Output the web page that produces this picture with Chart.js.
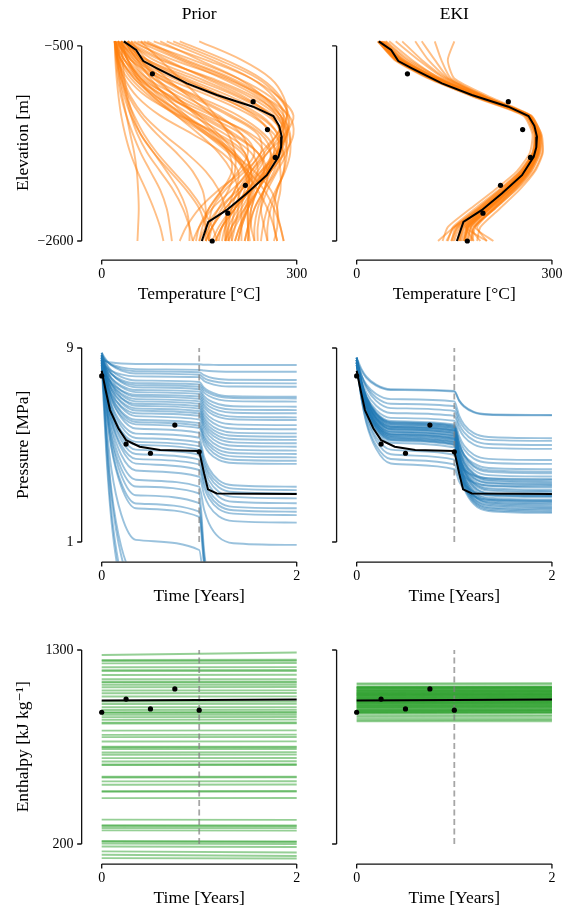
<!DOCTYPE html>
<html>
<head>
<meta charset="utf-8">
<script src="https://cdn.jsdelivr.net/npm/chart.js@4.4.1/dist/chart.umd.min.js"></script>
<style>
  body { margin: 0; background: #fff; }
  canvas { position: absolute; }
</style>
</head>
<body>
<canvas id="tempPrior" width="316" height="310" style="left:0;top:0"></canvas>
<canvas id="tempEki" width="247" height="310" style="left:316px;top:0"></canvas>
<canvas id="presPrior" width="316" height="310" style="left:0;top:302px"></canvas>
<canvas id="presEki" width="247" height="310" style="left:316px;top:302px"></canvas>
<canvas id="enthPrior" width="316" height="310" style="left:0;top:604px"></canvas>
<canvas id="enthEki" width="247" height="310" style="left:316px;top:604px"></canvas>
<script>
// ---- temperature profiles (x = temperature, y = elevation)
const elevLevels = [-450, -650, -850, -1050, -1250, -1450, -1650, -1850, -2050, -2250, -2450, -2600]

const tempPriorRows = [
    [30, 70, 140, 210, 260, 275, 265, 245, 225, 205, 185, 175],
    [45, 110, 190, 250, 288, 295, 282, 260, 240, 220, 200, 190],
    [60, 140, 210, 260, 285, 285, 270, 250, 235, 225, 215, 210],
    [25, 60, 120, 190, 245, 270, 270, 255, 240, 230, 225, 220],
    [80, 160, 230, 272, 295, 282, 255, 230, 210, 200, 195, 195],
    [35, 90, 170, 235, 275, 290, 285, 270, 255, 245, 240, 240],
    [120, 190, 245, 275, 285, 275, 255, 235, 220, 215, 215, 215],
    [50, 100, 160, 220, 260, 275, 270, 255, 230, 205, 185, 175],
    [20, 50, 100, 170, 230, 265, 280, 280, 270, 260, 255, 255],
    [150, 215, 260, 280, 285, 270, 245, 225, 205, 195, 190, 190],
    [40, 80, 150, 215, 265, 285, 280, 260, 240, 230, 230, 235],
    [70, 130, 200, 250, 280, 285, 275, 260, 250, 245, 250, 255],
    [30, 70, 130, 200, 255, 280, 285, 280, 270, 265, 265, 270],
    [100, 170, 230, 265, 280, 270, 250, 230, 215, 205, 200, 200],
    [25, 65, 125, 185, 235, 260, 265, 255, 240, 225, 215, 210],
    [55, 120, 185, 240, 270, 280, 275, 265, 250, 235, 225, 220],
    [20, 45, 90, 150, 210, 250, 270, 275, 275, 270, 275, 280],
    [90, 150, 210, 250, 275, 280, 270, 245, 215, 190, 170, 160],
    [20, 30, 55, 100, 160, 215, 235, 215, 180, 150, 130, 120],
    [25, 40, 70, 120, 175, 225, 250, 240, 210, 180, 160, 150],
    [30, 40, 60, 95, 140, 190, 230, 240, 225, 200, 180, 170],
    [20, 25, 40, 70, 120, 180, 220, 225, 200, 170, 150, 140],
    [35, 55, 90, 140, 195, 240, 245, 220, 190, 170, 165, 165],
    [20, 30, 50, 85, 130, 170, 195, 200, 185, 165, 150, 145],
    [25, 45, 80, 130, 180, 215, 225, 210, 185, 165, 155, 150],
    [40, 60, 95, 145, 200, 245, 260, 250, 225, 200, 185, 180],
    [20, 35, 60, 110, 170, 230, 260, 255, 230, 205, 190, 185],
    [30, 40, 55, 80, 120, 165, 205, 225, 225, 210, 195, 190],
    [20, 25, 35, 55, 90, 140, 185, 210, 205, 185, 170, 165],
    [25, 35, 55, 85, 125, 175, 215, 230, 215, 190, 170, 160],
    [20, 22, 25, 30, 38, 48, 60, 75, 90, 100, 105, 108],
    [25, 28, 32, 38, 45, 55, 70, 90, 110, 125, 135, 140],
    [20, 21, 23, 26, 30, 36, 44, 55, 68, 80, 90, 95],
    [30, 32, 35, 40, 48, 60, 80, 105, 130, 150, 160, 165],
    [22, 25, 30, 38, 50, 65, 85, 110, 135, 155, 170, 178],
    [20, 24, 30, 42, 60, 85, 115, 140, 155, 160, 160, 160],
    [22, 24, 27, 32, 38, 44, 50, 54, 56, 57, 56, 55],
    [20, 23, 28, 35, 45, 60, 80, 100, 118, 130, 135, 135],
    [40, 60, 85, 115, 145, 175, 200, 220, 240, 255, 265, 270],
    [25, 40, 60, 90, 125, 160, 195, 225, 250, 265, 275, 280],
    [30, 50, 80, 115, 150, 180, 205, 220, 225, 225, 225, 225],
    [20, 30, 50, 80, 115, 150, 180, 200, 210, 210, 205, 200],
    [60, 90, 120, 150, 175, 195, 205, 205, 195, 180, 165, 155],
    [45, 70, 100, 135, 170, 200, 220, 230, 230, 220, 205, 195],
    [35, 55, 75, 100, 130, 165, 200, 235, 260, 270, 270, 265],
    [25, 55, 110, 180, 240, 272, 278, 268, 250, 235, 228, 225],
    [65, 125, 195, 245, 275, 283, 272, 252, 232, 215, 200, 195],
    [20, 28, 45, 75, 115, 160, 200, 222, 228, 222, 212, 205],
    [30, 45, 70, 105, 150, 200, 240, 255, 250, 240, 235, 235],
    [22, 26, 33, 45, 65, 95, 130, 160, 180, 190, 192, 192],
    [110, 180, 240, 272, 288, 285, 268, 248, 232, 225, 225, 228],
    [40, 95, 165, 228, 270, 288, 290, 282, 268, 255, 248, 245],
    [20, 35, 65, 105, 155, 205, 240, 250, 240, 225, 212, 205]
]

const tempEkiRows = [
    [36, 66, 120, 190, 264, 280, 278, 262, 232, 198, 165, 158],
    [40, 70, 125, 195, 268, 283, 282, 268, 240, 205, 172, 165],
    [32, 60, 112, 182, 258, 272, 270, 252, 220, 186, 152, 146],
    [45, 80, 130, 198, 266, 279, 276, 260, 235, 205, 175, 170],
    [38, 64, 118, 188, 263, 278, 277, 263, 236, 203, 168, 162],
    [60, 95, 135, 195, 262, 275, 272, 255, 226, 192, 158, 150],
    [90, 110, 140, 200, 265, 278, 274, 258, 230, 198, 165, 160],
    [35, 63, 115, 185, 260, 282, 285, 272, 245, 212, 180, 175],
    [34, 61, 114, 186, 261, 274, 270, 250, 218, 182, 148, 140],
    [50, 85, 128, 192, 264, 277, 275, 259, 231, 200, 170, 165],
    [120, 130, 145, 200, 263, 276, 273, 256, 226, 192, 160, 155],
    [37, 67, 122, 192, 266, 284, 286, 274, 250, 220, 190, 185],
    [33, 58, 110, 180, 256, 270, 266, 246, 212, 175, 140, 132],
    [42, 72, 124, 193, 265, 280, 279, 265, 240, 210, 182, 178],
    [150, 140, 150, 205, 268, 282, 280, 264, 236, 204, 172, 168],
    [36, 65, 119, 189, 263, 279, 279, 266, 242, 212, 185, 200],
    [35, 62, 117, 188, 262, 277, 276, 261, 234, 203, 175, 190],
    [39, 68, 121, 190, 264, 278, 275, 257, 227, 191, 150, 125],
    [34, 63, 118, 190, 265, 281, 281, 268, 244, 213, 182, 210],
    [70, 100, 138, 197, 264, 277, 273, 255, 225, 190, 155, 148],
    [36, 64, 117, 187, 262, 276, 274, 258, 229, 196, 162, 156],
    [33, 60, 113, 184, 260, 274, 272, 256, 228, 198, 168, 180],
    [41, 71, 123, 191, 264, 279, 278, 264, 238, 207, 176, 172],
    [37, 66, 120, 189, 262, 275, 271, 252, 221, 186, 150, 138],
    [100, 120, 142, 198, 264, 277, 274, 257, 228, 195, 162, 158],
    [35, 63, 116, 186, 261, 276, 275, 260, 233, 202, 170, 165],
    [38, 67, 121, 191, 265, 280, 278, 262, 234, 201, 168, 200],
    [34, 61, 115, 186, 261, 275, 272, 254, 223, 188, 155, 145],
    [44, 76, 127, 194, 265, 279, 277, 261, 234, 202, 171, 166],
    [36, 65, 119, 189, 264, 279, 279, 265, 240, 210, 180, 176]
]

const truthElev = [-450, -543, -662, -740, -902, -1028, -1154, -1255, -1360, -1478, -1590, -1693, -1891, -2088, -2268, -2394, -2600]
const truthTemp = [34, 53, 64, 85, 131, 177, 233, 264, 273, 277, 276, 272, 254, 223, 192, 164, 154]
const obsElev = [-800, -1100, -1400, -1700, -2000, -2300, -2600]
const obsTemp = [78, 233, 255, 267, 221, 194, 170]

// ---- pressure time series
const timeGrid = [0, 0.05, 0.1, 0.2, 0.35, 1.0, 1.05, 1.1, 1.2, 1.35, 2.0]

const presPriorRows = [
    [8.5, 8.44, 8.4, 8.36, 8.34, 8.33, 8.31, 8.31, 8.3, 8.3, 8.3],
    [8.6, 8.43, 8.32, 8.2, 8.13, 8.1, 8.07, 8.05, 8.03, 8.02, 8.02],
    [8.7, 8.46, 8.3, 8.13, 8.04, 8.0, 7.88, 7.8, 7.72, 7.69, 7.68],
    [8.8, 8.49, 8.29, 8.07, 7.95, 7.9, 7.76, 7.67, 7.59, 7.55, 7.54],
    [8.4, 8.2, 8.06, 7.91, 7.83, 7.8, 7.64, 7.55, 7.45, 7.41, 7.4],
    [8.7, 8.33, 8.07, 7.81, 7.66, 7.6, 7.36, 7.22, 7.07, 7.01, 6.99],
    [8.5, 8.16, 7.93, 7.69, 7.55, 7.5, 7.27, 7.14, 7.0, 6.94, 6.92],
    [8.6, 8.19, 7.92, 7.63, 7.47, 7.4, 7.16, 7.02, 6.87, 6.81, 6.79],
    [8.8, 8.29, 7.95, 7.59, 7.38, 7.3, 7.02, 6.85, 6.68, 6.6, 6.58],
    [8.5, 8.06, 7.76, 7.45, 7.27, 7.2, 6.9, 6.72, 6.54, 6.46, 6.44],
    [8.6, 8.09, 7.75, 7.39, 7.18, 7.1, 6.79, 6.6, 6.42, 6.33, 6.31],
    [8.3, 7.86, 7.56, 7.25, 7.07, 7.0, 6.67, 6.46, 6.26, 6.17, 6.14],
    [8.7, 8.09, 7.67, 7.24, 7.0, 6.9, 6.56, 6.35, 6.15, 6.06, 6.03],
    [8.5, 7.92, 7.53, 7.12, 6.89, 6.8, 6.42, 6.18, 5.95, 5.85, 5.82],
    [8.6, 7.95, 7.52, 7.06, 6.8, 6.7, 6.29, 6.04, 5.79, 5.68, 5.65],
    [8.4, 7.79, 7.37, 6.94, 6.7, 6.6, 6.16, 5.89, 5.63, 5.51, 5.48],
    [8.8, 8.02, 7.49, 6.94, 6.62, 6.5, 6.05, 5.77, 5.5, 5.38, 5.34],
    [8.5, 7.79, 7.3, 6.8, 6.51, 6.4, 5.94, 5.65, 5.37, 5.25, 5.21],
    [8.6, 7.82, 7.29, 6.74, 6.42, 6.3, 5.82, 5.53, 5.24, 5.11, 5.07],
    [8.3, 7.59, 7.1, 6.6, 6.31, 6.2, 5.71, 5.4, 5.1, 4.97, 4.93],
    [8.7, 7.8, 7.19, 6.55, 6.19, 6.05, 5.55, 5.24, 4.94, 4.81, 4.77],
    [8.5, 7.62, 7.02, 6.39, 6.04, 5.9, 5.4, 5.1, 4.8, 4.67, 4.63],
    [8.6, 7.65, 7.0, 6.33, 5.95, 5.8, 5.29, 4.98, 4.67, 4.53, 4.49],
    [8.4, 7.48, 6.86, 6.21, 5.85, 5.7, 5.17, 4.85, 4.53, 4.39, 4.35],
    [8.8, 7.68, 6.92, 6.13, 5.68, 5.5, 5.0, 4.69, 4.39, 4.26, 4.22],
    [8.5, 7.41, 6.68, 5.91, 5.47, 5.3, 4.51, 4.03, 3.55, 3.34, 3.28],
    [8.6, 7.41, 6.61, 5.77, 5.29, 5.1, 4.34, 3.87, 3.41, 3.2, 3.14],
    [8.3, 7.16, 6.39, 5.59, 5.13, 4.95, 4.19, 3.72, 3.26, 3.06, 3.0],
    [8.7, 7.37, 6.48, 5.54, 5.01, 4.8, 4.02, 3.54, 3.07, 2.86, 2.8],
    [8.5, 7.17, 6.28, 5.34, 4.81, 4.6, 3.82, 3.34, 2.87, 2.66, 2.6],
    [8.6, 7.17, 6.21, 5.2, 4.63, 4.4, 3.62, 3.13, 2.66, 2.45, 2.39],
    [8.4, 6.97, 6.01, 5.0, 4.43, 4.2, 3.44, 2.97, 2.51, 2.31, 2.25],
    [8.7, 7.09, 6.0, 4.87, 4.23, 3.97, 3.25, 2.8, 2.36, 2.17, 2.11],
    [8.5, 6.87, 5.76, 4.6, 3.95, 3.69, 2.95, 2.5, 2.06, 1.86, 1.8],
    [8.6, 6.79, 5.57, 4.29, 3.57, 3.28, 2.34, 1.77, 1.2, 0.95, 0.88],
    [8.4, 6.56, 5.32, 4.03, 3.29, 3.0, 0.66, -0.78, -2.19, -2.82, -3],
    [8.7, 6.63, 5.22, 3.76, 2.93, 2.6, 0.42, -0.93, -2.24, -2.83, -3],
    [8.5, 6.38, 4.94, 3.44, 2.59, 2.25, 0.2, -1.06, -2.29, -2.84, -3],
    [8.6, 6.37, 4.86, 3.29, 2.39, 2.04, 0.07, -1.14, -2.32, -2.85, -3],
    [8.4, 5.77, 3.99, 2.14, 1.09, 0.67, -0.76, -1.64, -2.5, -2.89, -3],
    [8.7, 5.23, 2.89, 0.44, -0.95, -1.5, -1.5, -1.5, -1.5, -1.5, -1.5],
    [8.5, 4.76, 2.23, -0.41, -1.91, -2.5, -2.5, -2.5, -2.5, -2.5, -2.5],
    [8.6, 5.34, 3.13, 0.82, -0.48, -1, -1, -1, -1, -1, -1],
    [8.3, 4.46, 1.86, -0.85, -2.39, -3, -3, -3, -3, -3, -3]
]

const presEkiRows = [
    [8.6, 8.13, 7.82, 7.49, 7.3, 7.23, 6.84, 6.61, 6.37, 6.27, 6.24],
    [8.5, 8.06, 7.76, 7.45, 7.27, 7.2, 6.82, 6.58, 6.35, 6.25, 6.22],
    [8.4, 7.86, 7.49, 7.1, 6.89, 6.8, 6.21, 5.84, 5.49, 5.33, 5.28],
    [8.5, 7.85, 7.42, 6.96, 6.7, 6.6, 6.04, 5.7, 5.36, 5.21, 5.17],
    [8.6, 7.85, 7.35, 6.82, 6.52, 6.4, 5.85, 5.52, 5.19, 5.04, 5.0],
    [8.4, 7.65, 7.15, 6.62, 6.32, 6.2, 5.67, 5.34, 5.02, 4.88, 4.84],
    [8.3, 7.52, 6.99, 6.44, 6.12, 6.0, 5.37, 4.98, 4.6, 4.43, 4.38],
    [8.5, 7.6, 6.99, 6.35, 5.99, 5.85, 5.21, 4.82, 4.44, 4.27, 4.22],
    [8.4, 7.52, 6.92, 6.29, 5.94, 5.8, 5.03, 4.56, 4.1, 3.89, 3.83],
    [8.6, 7.61, 6.95, 6.25, 5.86, 5.7, 4.92, 4.44, 3.97, 3.76, 3.7],
    [8.5, 7.53, 6.88, 6.19, 5.8, 5.65, 4.84, 4.33, 3.84, 3.62, 3.56],
    [8.4, 7.45, 6.8, 6.13, 5.75, 5.6, 4.76, 4.25, 3.74, 3.52, 3.45],
    [8.3, 7.37, 6.73, 6.07, 5.7, 5.55, 4.69, 4.16, 3.65, 3.42, 3.35],
    [8.5, 7.48, 6.79, 6.07, 5.66, 5.5, 4.62, 4.08, 3.55, 3.32, 3.25],
    [8.6, 7.53, 6.81, 6.05, 5.62, 5.45, 4.55, 4.0, 3.46, 3.22, 3.15],
    [8.4, 7.38, 6.69, 5.97, 5.56, 5.4, 4.48, 3.92, 3.37, 3.12, 3.05],
    [8.5, 7.43, 6.7, 5.95, 5.52, 5.35, 4.41, 3.84, 3.27, 3.02, 2.95],
    [8.3, 7.28, 6.59, 5.87, 5.46, 5.3, 4.35, 3.76, 3.18, 2.92, 2.85],
    [8.6, 7.46, 6.69, 5.89, 5.43, 5.25, 4.28, 3.68, 3.09, 2.83, 2.75],
    [8.4, 7.31, 6.58, 5.81, 5.37, 5.2, 4.21, 3.59, 2.99, 2.73, 2.65],
    [8.5, 7.36, 6.59, 5.79, 5.33, 5.15, 4.14, 3.51, 2.9, 2.63, 2.55],
    [8.3, 7.21, 6.48, 5.71, 5.27, 5.1, 4.07, 3.43, 2.81, 2.53, 2.45],
    [8.6, 7.39, 6.58, 5.73, 5.24, 5.05, 4.0, 3.35, 2.72, 2.43, 2.35],
    [8.4, 7.24, 6.46, 5.65, 5.18, 5.0, 3.93, 3.27, 2.62, 2.33, 2.25],
    [8.5, 7.28, 6.45, 5.58, 5.09, 4.9, 3.85, 3.2, 2.56, 2.28, 2.2],
    [8.4, 6.91, 6.23, 5.32, 4.81, 4.6, 4.21, 3.97, 3.74, 3.63, 3.6],
    [8.5, 7.11, 6.16, 5.18, 4.62, 4.4, 3.97, 3.71, 3.45, 3.33, 3.3],
    [8.3, 6.91, 5.96, 4.98, 4.42, 4.2, 3.69, 3.38, 3.08, 2.94, 2.9],
    [8.4, 6.9, 5.89, 4.84, 4.24, 4.0, 3.49, 3.18, 2.88, 2.74, 2.7],
    [8.5, 7.57, 6.93, 6.27, 5.9, 5.75, 5.07, 4.6, 4.24, 4.05, 4.0],
    [8.5, 7.58, 6.95, 6.3, 5.93, 5.78, 5.05, 4.6, 4.15, 3.96, 3.9],
    [8.4, 7.46, 6.82, 6.15, 5.77, 5.62, 4.79, 4.28, 3.79, 3.56, 3.5],
    [8.6, 7.54, 6.82, 6.07, 5.65, 5.48, 4.55, 3.98, 3.42, 3.17, 3.1],
    [8.3, 7.31, 6.64, 5.94, 5.54, 5.38, 4.34, 3.69, 3.06, 2.78, 2.7],
    [8.5, 7.41, 6.67, 5.89, 5.45, 5.28, 4.16, 3.47, 2.79, 2.49, 2.4],
    [8.4, 7.32, 6.59, 5.82, 5.39, 5.22, 4.08, 3.38, 2.69, 2.39, 2.3],
    [8.6, 7.42, 6.62, 5.78, 5.31, 5.12, 4.45, 4.04, 3.63, 3.45, 3.4],
    [8.5, 7.32, 6.52, 5.68, 5.21, 5.02, 4.08, 3.5, 2.93, 2.67, 2.6],
    [8.4, 7.44, 6.79, 6.12, 5.73, 5.58, 4.38, 3.64, 2.92, 2.59, 2.5],
    [8.5, 7.55, 6.9, 6.23, 5.85, 5.7, 4.61, 3.94, 3.28, 2.98, 2.9]
]

const truthTime = [0, 0.04, 0.085, 0.17, 0.25, 0.39, 0.6, 1.0, 1.05, 1.09, 1.18, 2.0]
const truthPres = [8.06, 7.27, 6.44, 5.69, 5.2, 4.93, 4.79, 4.75, 3.83, 3.17, 3.0, 2.98]
const obsTime = [0, 0.25, 0.5, 0.75, 1.0]
const obsPres = [7.85, 5.04, 4.66, 5.82, 4.72]

// ---- enthalpy (nearly flat members, value at t=0 and t=2)
const enthTime = [0, 2]
const enthPriorStart = [1272, 1243, 1238, 1224, 1202, 1186, 1180, 1158, 1134, 1120, 1115, 1102, 1089, 1070, 1055, 1036, 1007, 994, 975, 960, 948, 943, 932, 919, 904, 888, 883, 843, 819, 806, 781, 751, 747, 738, 719, 706, 687, 668, 651, 647, 581, 577, 555, 536, 500, 496, 460, 338, 306, 302, 291, 277, 217, 213, 202, 186, 158, 139, 120]
const enthPriorEnd = [1286, 1245, 1239, 1226, 1203, 1187, 1180, 1160, 1135, 1121, 1116, 1103, 1090, 1071, 1056, 1037, 1008, 995, 976, 961, 949, 944, 933, 920, 905, 889, 884, 844, 820, 807, 782, 752, 748, 739, 720, 707, 688, 669, 652, 648, 582, 578, 556, 537, 501, 497, 461, 337, 305, 301, 290, 276, 215, 211, 200, 183, 152, 132, 118]
const enthEkiStart = [1111, 1104, 1092, 1090, 1088, 1086, 1083, 1081, 1078, 1073, 1071, 1068, 1066, 1064, 1060, 1058, 1056, 1052, 1050, 1048, 1046, 1044, 1040, 1038, 1036, 1032, 1030, 1028, 1024, 1022, 1020, 1016, 1014, 1012, 1008, 1006, 1003, 1001, 998, 996, 993, 988, 986, 983, 980, 977, 974, 971, 965, 962, 959, 956, 953, 950, 947, 944, 941, 930, 921, 911, 902, 895]
const enthEkiEnd = [1112, 1105, 1094, 1091, 1089, 1087, 1085, 1082, 1079, 1075, 1072, 1069, 1067, 1066, 1061, 1059, 1058, 1053, 1051, 1050, 1047, 1045, 1042, 1039, 1037, 1034, 1031, 1029, 1026, 1023, 1021, 1018, 1015, 1013, 1010, 1007, 1004, 1002, 1000, 997, 994, 990, 987, 984, 981, 979, 975, 972, 967, 963, 960, 957, 955, 951, 948, 945, 943, 931, 923, 912, 904, 896]
const truthEnth = [1013, 1020]
const obsEnth = [947, 1022, 966, 1079, 959]

// ---- ticks
const tempTicks = [0, 300]
const tempLabels = ['0', '300']
const elevTicks = [-2600, -500]
const elevLabels = ['\u22122600', '\u2212500']
const timeTicks = [0, 2]
const timeLabels = ['0', '2']
const presTicks = [1, 9]
const presLabels = ['1', '9']
const enthTicks = [200, 1300]
const enthLabels = ['200', '1300']

const ink = '#000'
const serif = "'Liberation Serif', 'DejaVu Serif', serif"
const tickFont = {family: serif, size: 14}
const titleFont = {family: serif, size: 17.5, weight: 'normal'}
const orange = 'rgba(255,127,14,0.5)'
const blue = 'rgba(31,119,180,0.45)'
const green = 'rgba(44,160,44,0.5)'

const toPoints = (xs, ys) => xs.map((x, i) => ({x: x, y: ys[i]}))

const members = (rows, color, makePoints, extra) => rows.map(r => Object.assign({
    data: makePoints(r),
    showLine: true,
    borderColor: color,
    borderWidth: 1.9,
    pointRadius: 0,
    order: 3
}, extra))

const truthLine = pts => ({data: pts, showLine: true, borderColor: '#000', borderWidth: 2, pointRadius: 0, tension: 0, order: 1})
const obsDots = pts => ({data: pts, pointRadius: 2.6, pointBackgroundColor: '#000', pointBorderWidth: 0, order: 0})
const dashed = yt => ({
    data: toPoints([1, 1], yt), showLine: true, borderColor: 'rgba(128,128,128,0.7)',
    borderWidth: 1.8, borderDash: [6, 3.5], pointRadius: 0, order: 2
})

// offset spines trimmed to the outer ticks, like despine(trim=True)
const spines = (xt, yt) => ({
    id: 'spines',
    afterDraw(chart) {
        const {ctx, chartArea: a, scales} = chart
        const sx = a.left - 10.3
        const sy = a.bottom + 0.6
        ctx.save()
        ctx.strokeStyle = '#111'
        ctx.lineWidth = 1.3
        ctx.beginPath()
        ctx.moveTo(sx, scales.y.getPixelForValue(yt[0]))
        ctx.lineTo(sx, scales.y.getPixelForValue(yt[yt.length - 1]))
        yt.forEach(v => {
            const p = scales.y.getPixelForValue(v)
            ctx.moveTo(sx, p)
            ctx.lineTo(sx - 4.5, p)
        })
        ctx.moveTo(scales.x.getPixelForValue(xt[0]), sy)
        ctx.lineTo(scales.x.getPixelForValue(xt[xt.length - 1]), sy)
        xt.forEach(v => {
            const p = scales.x.getPixelForValue(v)
            ctx.moveTo(p, sy)
            ctx.lineTo(p, sy + 4.5)
        })
        ctx.stroke()
        ctx.restore()
    }
})

const panel = (id, p) => new Chart(document.getElementById(id), {
    type: 'scatter',
    data: {datasets: p.datasets},
    options: {
        responsive: false,
        animation: false,
        events: [],
        layout: {autoPadding: false, padding: {left: 0, right: p.right ? 1.3 : 9.55, top: p.colTitle ? 0 : 26, bottom: 0}},
        plugins: {
            legend: {display: false},
            tooltip: {enabled: false},
            title: {display: !!p.colTitle, text: p.colTitle || '', fullSize: false, font: titleFont, color: ink, padding: {top: 3.5, bottom: 1.5}}
        },
        scales: {
            x: {
                type: 'linear', min: p.xMin, max: p.xMax,
                afterBuildTicks: s => { s.ticks = p.xTicks.map(v => ({value: v})) },
                afterFit: s => { s.height = 50.5; s.paddingLeft = 0; s.paddingRight = 0 },
                grid: {display: false, drawTicks: false},
                border: {display: false},
                ticks: {padding: 6.5, font: tickFont, color: ink, autoSkip: false, maxRotation: 0, callback: (v, i) => p.xLabels[i]},
                title: {display: true, text: p.xTitle, font: titleFont, color: ink, padding: {top: 0, bottom: 5.5}}
            },
            y: {
                type: 'linear', min: p.yMin, max: p.yMax,
                afterBuildTicks: s => { s.ticks = p.yTicks.map(v => ({value: v})) },
                afterFit: s => { s.width = p.right ? 30.9 : 91.95; s.paddingTop = 0; s.paddingBottom = 0 },
                grid: {display: false, drawTicks: false},
                border: {display: false},
                ticks: {display: !p.right, padding: 18.5, font: tickFont, color: ink, autoSkip: false, callback: (v, i) => p.yLabels[i]},
                title: {display: !p.right, text: p.yTitle || '', font: titleFont, color: ink, padding: {top: 12.5, bottom: 0}}
            }
        }
    },
    plugins: [spines(p.xTicks, p.yTicks)]
})

const tempProfile = r => toPoints(r, elevLevels)
const presSeries = r => toPoints(timeGrid, r)
const flatPairs = (a, b) => a.map((v, i) => toPoints(enthTime, [v, b[i]]))

const tempAxes = {
    xMin: -15, xMax: 315, xTicks: tempTicks, xLabels: tempLabels, xTitle: 'Temperature [\u00B0C]',
    yMin: -2799, yMax: -285, yTicks: elevTicks, yLabels: elevLabels, yTitle: 'Elevation [m]'
}
const presAxes = {
    xMin: -0.1, xMax: 2.1, xTicks: timeTicks, xLabels: timeLabels, xTitle: 'Time [Years]',
    yMin: 0.196, yMax: 9.825, yTicks: presTicks, yLabels: presLabels, yTitle: 'Pressure [MPa]'
}
const enthAxes = {
    xMin: -0.1, xMax: 2.1, xTicks: timeTicks, xLabels: timeLabels, xTitle: 'Time [Years]',
    yMin: 89.4, yMax: 1413.4, yTicks: enthTicks, yLabels: enthLabels, yTitle: 'Enthalpy [kJ kg\u207B\u00B9]'
}

const tempCommon = () => [truthLine(toPoints(truthTemp, truthElev)), obsDots(toPoints(obsTemp, obsElev))]
const presCommon = () => [truthLine(toPoints(truthTime, truthPres)), obsDots(toPoints(obsTime, obsPres)), dashed(presTicks)]
const enthCommon = () => [truthLine(toPoints(enthTime, truthEnth)), obsDots(toPoints(obsTime, obsEnth)), dashed(enthTicks)]

panel('tempPrior', Object.assign({colTitle: 'Prior', datasets: members(tempPriorRows, orange, tempProfile, {tension: 0.35}).concat(tempCommon())}, tempAxes))
panel('tempEki', Object.assign({colTitle: 'EKI', right: true, datasets: members(tempEkiRows, orange, tempProfile, {tension: 0.2}).concat(tempCommon())}, tempAxes))
panel('presPrior', Object.assign({datasets: members(presPriorRows, blue, presSeries, {cubicInterpolationMode: 'monotone'}).concat(presCommon())}, presAxes))
panel('presEki', Object.assign({right: true, datasets: members(presEkiRows, blue, presSeries, {cubicInterpolationMode: 'monotone'}).concat(presCommon())}, presAxes))
panel('enthPrior', Object.assign({datasets: members(flatPairs(enthPriorStart, enthPriorEnd), green, r => r, {}).concat(enthCommon())}, enthAxes))
panel('enthEki', Object.assign({right: true, datasets: members(flatPairs(enthEkiStart, enthEkiEnd), green, r => r, {}).concat(enthCommon())}, enthAxes))
</script>
</body>
</html>
